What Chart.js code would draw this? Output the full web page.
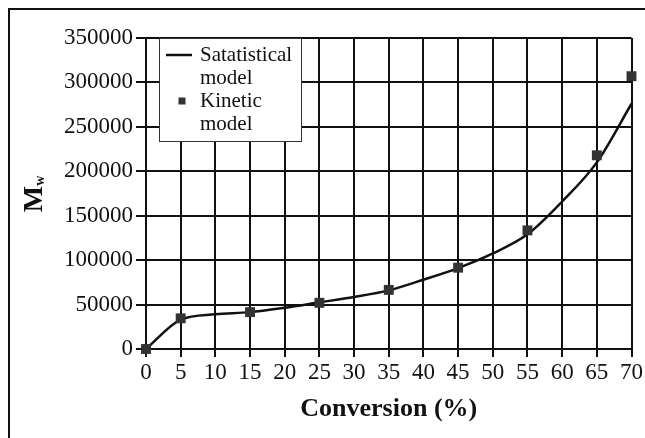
<!DOCTYPE html>
<html>
<head>
<meta charset="utf-8">
<script src="https://cdn.jsdelivr.net/npm/chart.js@4/dist/chart.umd.min.js"></script>
<style>
html,body{margin:0;padding:0;background:#fff;}
#wrap{position:relative;width:645px;height:438px;}
</style>
</head>
<body>
<div id="wrap"><canvas id="c" width="645" height="438"></canvas></div>
<script>
// ---- data ----
const conversionSteps = [0, 5, 10, 15, 20, 25, 30, 35, 40, 45, 50, 55, 60, 65, 70];
const statisticalMw = [0, 33000, 39000, 41500, 46500, 52500, 58500, 66000, 78000, 91000, 107500, 129000, 166000, 210000, 276000];
const kineticConversion = [0, 5, 15, 25, 35, 45, 55, 65, 70];
const kineticMw = [0, 34500, 41500, 52000, 66500, 91500, 133500, 218000, 307000];
const statisticalLabel = ['Satatistical', 'model'];
const kineticLabel = ['Kinetic', 'model'];
const xTitle = 'Conversion (%)';
const yTitleMain = 'M';
const yTitleSub = 'w';
const xMin = 0, xMax = 70, xStep = 5;
const yMin = 0, yMax = 350000, yStep = 50000;

const SERIF = "'Liberation Serif', 'Times New Roman', serif";
const INK = '#111';

const framePlugin = {
  id: 'frame',
  beforeDraw(chart) {
    const ctx = chart.ctx;
    ctx.save();
    ctx.fillStyle = '#fff';
    ctx.fillRect(0, 0, chart.width, chart.height);
    ctx.strokeStyle = INK;
    ctx.lineWidth = 2;
    ctx.beginPath();
    ctx.moveTo(9, chart.height);
    ctx.lineTo(9, 9);
    ctx.lineTo(chart.width, 9);
    ctx.stroke();
    ctx.restore();
  }
};

const yTitlePlugin = {
  id: 'ytitle',
  afterDraw(chart) {
    const ctx = chart.ctx;
    ctx.save();
    ctx.fillStyle = INK;
    ctx.font = 'bold 28px ' + SERIF;
    const mW = ctx.measureText(yTitleMain).width;
    ctx.font = 'bold 14px ' + SERIF;
    const wW = ctx.measureText(yTitleSub).width;
    const total = mW + wW;
    const cy = 194;
    ctx.translate(42, cy + total / 2);
    ctx.rotate(-Math.PI / 2);
    ctx.textBaseline = 'alphabetic';
    ctx.textAlign = 'left';
    ctx.font = 'bold 28px ' + SERIF;
    ctx.fillText(yTitleMain, 0, 0);
    ctx.font = 'bold 14px ' + SERIF;
    ctx.fillText(yTitleSub, mW, 2);
    ctx.restore();
  }
};

const legendPlugin = {
  id: 'boxlegend',
  afterDatasetsDraw(chart) {
    const ctx = chart.ctx;
    const x0 = 159, y0 = 38, w = 142, h = 103;
    ctx.save();
    ctx.fillStyle = '#fff';
    ctx.fillRect(x0, y0, w, h);
    ctx.strokeStyle = '#333';
    ctx.lineWidth = 1;
    ctx.strokeRect(x0 + 0.5, y0 + 0.5, w, h);
    const ds = chart.data.datasets;
    ctx.font = '21px ' + SERIF;
    ctx.fillStyle = INK;
    ctx.textBaseline = 'middle';
    ctx.textAlign = 'left';
    const lineH = 23;
    let y = 55;
    ctx.strokeStyle = ds[0].borderColor;
    ctx.lineWidth = 2.5;
    ctx.beginPath();
    ctx.moveTo(166, y);
    ctx.lineTo(192, y);
    ctx.stroke();
    ds[0].label.forEach((t, i) => ctx.fillText(t, 200, y + i * lineH));
    y += 2 * lineH;
    ctx.fillStyle = ds[1].backgroundColor;
    ctx.fillRect(178.5, y - 3.5, 7, 7);
    ctx.fillStyle = INK;
    ds[1].label.forEach((t, i) => ctx.fillText(t, 200, y + i * lineH));
    ctx.restore();
  }
};

const chart = new Chart(document.getElementById('c'), {
  type: 'scatter',
  data: {
    datasets: [
      {
        type: 'line',
        label: statisticalLabel,
        data: conversionSteps.map((x, i) => ({ x, y: statisticalMw[i] })),
        borderColor: INK,
        borderWidth: 2.5,
        pointRadius: 0,
        fill: false,
        cubicInterpolationMode: 'monotone',
        order: 2
      },
      {
        type: 'scatter',
        label: kineticLabel,
        data: kineticConversion.map((x, i) => ({ x, y: kineticMw[i] })),
        backgroundColor: '#333',
        borderColor: '#333',
        pointStyle: 'rect',
        pointRadius: 7,
        pointHoverRadius: 7,
        borderWidth: 0,
        order: 1
      }
    ]
  },
  options: {
    responsive: false,
    animation: false,
    events: [],
    clip: false,
    layout: { padding: { left: 0, top: 38, right: 13, bottom: 0 } },
    plugins: {
      legend: { display: false },
      tooltip: { enabled: false },
      title: { display: false }
    },
    scales: {
      x: {
        type: 'linear',
        min: xMin, max: xMax,
        ticks: {
          stepSize: xStep,
          color: INK,
          padding: 2,
          font: { family: SERIF, size: 23 },
          maxRotation: 0,
          autoSkip: false,
          callback: (v) => String(v)
        },
        grid: { color: INK, lineWidth: 2, tickLength: 8, drawTicks: true },
        border: { color: INK, width: 2 },
        title: {
          display: true,
          text: xTitle,
          color: INK,
          font: { family: SERIF, size: 26, weight: 'bold' },
          padding: { top: 0, bottom: 13 }
        },
        afterFit(scale) { scale.height = 89; }
      },
      y: {
        type: 'linear',
        min: yMin, max: yMax,
        ticks: {
          stepSize: yStep,
          color: INK,
          padding: 3,
          font: { family: SERIF, size: 23 },
          autoSkip: false,
          callback: (v) => String(v)
        },
        grid: { color: INK, lineWidth: 2, tickLength: 10 },
        border: { color: INK, width: 2 },
        afterFit(scale) { scale.width = 146; }
      }
    }
  },
  plugins: [framePlugin, legendPlugin, yTitlePlugin]
});
</script>
</body>
</html>
